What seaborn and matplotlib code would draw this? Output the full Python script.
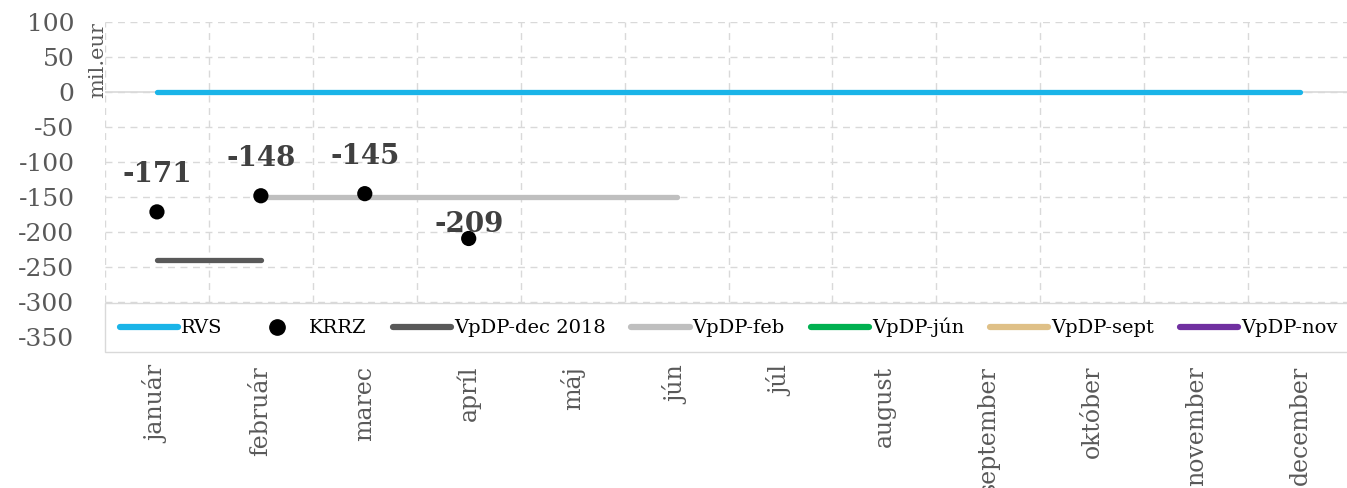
import pandas as pd
import matplotlib.pyplot as plt
import seaborn as sns
from matplotlib.lines import Line2D
from matplotlib.ticker import FixedLocator, MultipleLocator

months = ["január", "február", "marec", "apríl", "máj", "jún", "júl",
          "august", "september", "október", "november", "december"]

rvs_values = [0, 0, 0, 0, 0, 0, 0, 0, 0, 0, 0, 0]
krrz_months = [0, 1, 2, 3]
krrz_values = [-171, -148, -145, -209]
dec2018_months = [0, 1]
dec2018_values = [-240, -240]
feb_months = [1, 2, 3, 4, 5]
feb_values = [-150, -150, -150, -150, -150]

series_names = ["RVS", "KRRZ", "VpDP-dec 2018", "VpDP-feb", "VpDP-jún", "VpDP-sept", "VpDP-nov"]
colors = {"RVS": "#1ab4e8", "KRRZ": "#000000", "VpDP-dec 2018": "#595959",
          "VpDP-feb": "#bfbfbf", "VpDP-jún": "#00b050", "VpDP-sept": "#dfc087",
          "VpDP-nov": "#7030a0"}

lines = pd.concat([
    pd.DataFrame({"month": list(range(12)), "value": rvs_values, "series": "RVS"}),
    pd.DataFrame({"month": dec2018_months, "value": dec2018_values, "series": "VpDP-dec 2018"}),
    pd.DataFrame({"month": feb_months, "value": feb_values, "series": "VpDP-feb"}),
])
points = pd.DataFrame({"month": krrz_months, "value": krrz_values})

sns.set_style("white")
plt.rcParams["font.family"] = ["DejaVu Serif"]
plt.rcParams["axes.unicode_minus"] = False
text_color = "#595959"

fig = plt.figure(figsize=(13.47, 4.88), dpi=100)
ax = fig.add_axes([105 / 1347, 1 - 352 / 488, 1247 / 1347, (352 - 22) / 488])

# grid first so marks sit on top
ax.set_xlim(-0.5, 11.5)
ax.set_ylim(-371, 100)
ax.yaxis.set_major_locator(MultipleLocator(50))
ax.xaxis.set_major_locator(FixedLocator(list(range(12))))
ax.xaxis.set_minor_locator(FixedLocator([i - 0.5 for i in range(13)]))
ax.grid(axis="y", which="major", color="#d9d9d9", linestyle=(0, (5, 4)), linewidth=1)
ax.grid(axis="x", which="minor", color="#d9d9d9", linestyle=(0, (5, 4)), linewidth=1)
ax.axhline(0, color="#d9d9d9", linewidth=1.2, zorder=1)
ax.set_axisbelow(True)

for name, grp in lines.groupby("series", sort=False):
    sns.lineplot(data=grp, x="month", y="value", color=colors[name], linewidth=3.8,
                 ax=ax, legend=False, solid_capstyle="round", zorder=3)

sns.scatterplot(data=points, x="month", y="value", color="black", s=120,
                edgecolor="none", ax=ax, legend=False, zorder=4)

# the last label sits closer to its point, under the VpDP-feb line
for m, v in zip(krrz_months, krrz_values):
    dy = 10 if v == -209 else 27
    ax.annotate(str(v), (m, v), xytext=(0, dy), textcoords="offset points",
                ha="center", va="center", fontsize=20, fontweight="bold", color="#404040")

for s in ax.spines.values():
    s.set_visible(False)

ax.set_xticks(range(12))
ax.set_xticklabels(months, rotation=90, fontsize=17, color=text_color)
ax.tick_params(axis="x", which="both", length=0, pad=10)
ax.tick_params(axis="y", length=0, pad=22, labelsize=18, labelcolor=text_color)
ax.set_xlabel("")
ax.set_ylabel("")
ax.text(-0.006, 1.0, "mil.eur", transform=ax.transAxes, rotation=90,
        ha="center", va="top", fontsize=15, color=text_color)

handles = []
for name in series_names:
    if name == "KRRZ":
        handles.append(Line2D([], [], linestyle="none", marker="o", markersize=11,
                              color="black", label=name))
    else:
        handles.append(Line2D([], [], color=colors[name], linewidth=4.5,
                              solid_capstyle="round", label=name))
leg = ax.legend(handles=handles, loc="lower left", bbox_to_anchor=(0, 0, 1, 0.14),
                mode="expand", ncol=7, fontsize=14, frameon=True, fancybox=False,
                handlelength=3.0, handletextpad=0.15, columnspacing=0.8,
                borderaxespad=0, borderpad=0.75)
leg.get_frame().set_edgecolor("#d9d9d9")
leg.get_frame().set_facecolor("white")
leg.get_frame().set_alpha(1)
for t in leg.get_texts():
    t.set_color("#000000")

fig.savefig("out.png", dpi=100)
